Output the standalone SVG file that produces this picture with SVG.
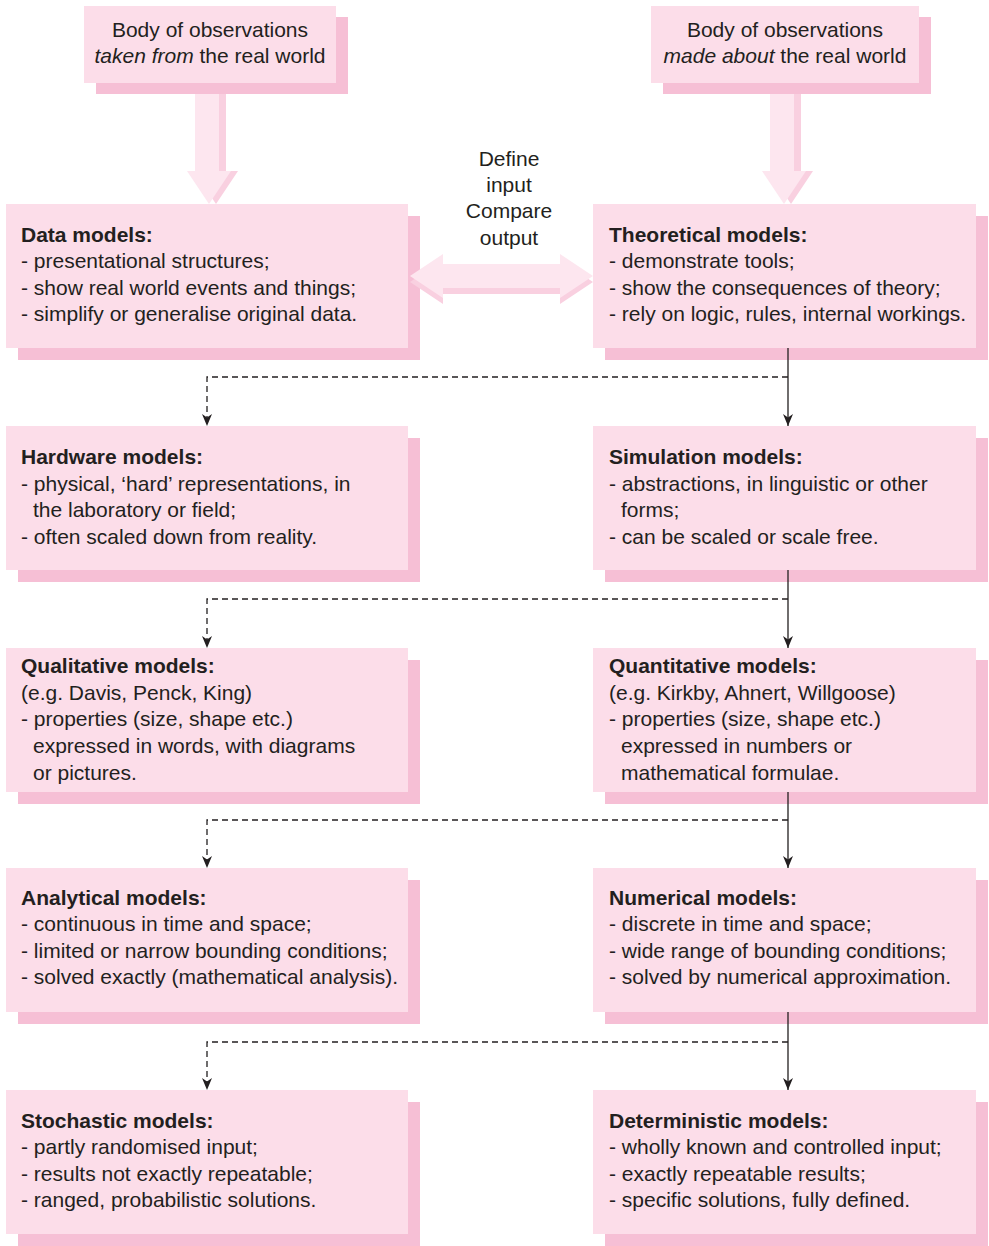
<svg xmlns="http://www.w3.org/2000/svg" width="989" height="1246" viewBox="0 0 989 1246">
<style>
.box{fill:#fcdde9}
.sh{fill:#f6bfd5}
.t{font-family:"Liberation Sans",Arial,Helvetica,sans-serif;font-size:21px;fill:#231f20}
.b{font-weight:bold}
.c{text-anchor:middle}
.fl{fill:#fde6ef}
.fd{fill:#f9d0e0}
.ln{fill:none;stroke:#231f20;stroke-width:1.3}
.ds{stroke-dasharray:6 4}
</style>
<defs>
<marker id="ah" markerUnits="userSpaceOnUse" viewBox="0 0 12 10" refX="12" refY="5" markerWidth="12" markerHeight="10" orient="auto">
<path d="M0,0 L12,5 L0,10 L3.5,5 Z" fill="#231f20"/>
</marker>
</defs>
<rect width="989" height="1246" fill="#ffffff"/>

<g id="obs-left">
<rect class="sh" x="96" y="17" width="252" height="77"/>
<rect class="box" x="84" y="6" width="252" height="77"/>
<text class="t c" x="210" y="37">Body of observations</text>
<text class="t c" x="210" y="63"><tspan font-style="italic">taken from</tspan> the real world</text>
</g>

<g id="obs-right">
<rect class="sh" x="663" y="17" width="268" height="77"/>
<rect class="box" x="651" y="6" width="268" height="77"/>
<text class="t c" x="785" y="37">Body of observations</text>
<text class="t c" x="785" y="63"><tspan font-style="italic">made about</tspan> the real world</text>
</g>

<g id="data">
<rect class="sh" x="18" y="216" width="402" height="144"/>
<rect class="box" x="6" y="204" width="402" height="144"/>
<text class="t b" x="21" y="242">Data models:</text>
<text class="t" x="21" y="268">- presentational structures;</text>
<text class="t" x="21" y="295">- show real world events and things;</text>
<text class="t" x="21" y="321">- simplify or generalise original data.</text>
</g>

<g id="theoretical">
<rect class="sh" x="605" y="216" width="383" height="144"/>
<rect class="box" x="593" y="204" width="383" height="144"/>
<text class="t b" x="609" y="242">Theoretical models:</text>
<text class="t" x="609" y="268">- demonstrate tools;</text>
<text class="t" x="609" y="295">- show the consequences of theory;</text>
<text class="t" x="609" y="321">- rely on logic, rules, internal workings.</text>
</g>

<g id="hardware">
<rect class="sh" x="18" y="438" width="402" height="144"/>
<rect class="box" x="6" y="426" width="402" height="144"/>
<text class="t b" x="21" y="464">Hardware models:</text>
<text class="t" x="21" y="491">- physical, ‘hard’ representations, in</text>
<text class="t" x="33" y="517">the laboratory or field;</text>
<text class="t" x="21" y="544">- often scaled down from reality.</text>
</g>

<g id="simulation">
<rect class="sh" x="605" y="438" width="383" height="144"/>
<rect class="box" x="593" y="426" width="383" height="144"/>
<text class="t b" x="609" y="464">Simulation models:</text>
<text class="t" x="609" y="491">- abstractions, in linguistic or other</text>
<text class="t" x="621" y="517">forms;</text>
<text class="t" x="609" y="544">- can be scaled or scale free.</text>
</g>

<g id="qualitative">
<rect class="sh" x="18" y="660" width="402" height="144"/>
<rect class="box" x="6" y="648" width="402" height="144"/>
<text class="t b" x="21" y="673">Qualitative models:</text>
<text class="t" x="21" y="700">(e.g. Davis, Penck, King)</text>
<text class="t" x="21" y="726">- properties (size, shape etc.)</text>
<text class="t" x="33" y="753">expressed in words, with diagrams</text>
<text class="t" x="33" y="780">or pictures.</text>
</g>

<g id="quantitative">
<rect class="sh" x="605" y="660" width="383" height="144"/>
<rect class="box" x="593" y="648" width="383" height="144"/>
<text class="t b" x="609" y="673">Quantitative models:</text>
<text class="t" x="609" y="700">(e.g. Kirkby, Ahnert, Willgoose)</text>
<text class="t" x="609" y="726">- properties (size, shape etc.)</text>
<text class="t" x="621" y="753">expressed in numbers or</text>
<text class="t" x="621" y="780">mathematical formulae.</text>
</g>

<g id="analytical">
<rect class="sh" x="18" y="880" width="402" height="144"/>
<rect class="box" x="6" y="868" width="402" height="144"/>
<text class="t b" x="21" y="905">Analytical models:</text>
<text class="t" x="21" y="931">- continuous in time and space;</text>
<text class="t" x="21" y="958">- limited or narrow bounding conditions;</text>
<text class="t" x="21" y="984">- solved exactly (mathematical analysis).</text>
</g>

<g id="numerical">
<rect class="sh" x="605" y="880" width="383" height="144"/>
<rect class="box" x="593" y="868" width="383" height="144"/>
<text class="t b" x="609" y="905">Numerical models:</text>
<text class="t" x="609" y="931">- discrete in time and space;</text>
<text class="t" x="609" y="958">- wide range of bounding conditions;</text>
<text class="t" x="609" y="984">- solved by numerical approximation.</text>
</g>

<g id="stochastic">
<rect class="sh" x="18" y="1102" width="402" height="144"/>
<rect class="box" x="6" y="1090" width="402" height="144"/>
<text class="t b" x="21" y="1128">Stochastic models:</text>
<text class="t" x="21" y="1154">- partly randomised input;</text>
<text class="t" x="21" y="1181">- results not exactly repeatable;</text>
<text class="t" x="21" y="1207">- ranged, probabilistic solutions.</text>
</g>

<g id="deterministic">
<rect class="sh" x="605" y="1102" width="383" height="144"/>
<rect class="box" x="593" y="1090" width="383" height="144"/>
<text class="t b" x="609" y="1128">Deterministic models:</text>
<text class="t" x="609" y="1154">- wholly known and controlled input;</text>
<text class="t" x="609" y="1181">- exactly repeatable results;</text>
<text class="t" x="609" y="1207">- specific solutions, fully defined.</text>
</g>

<g id="connectors">
<polygon class="fd" points="202,94 226,94 226,171 238,171 216,204 194,171 202,171"/>
<polygon class="fl" points="195,94 219,94 219,171 231,171 209,204 187,171 195,171"/>
<polygon class="fd" points="777,94 801,94 801,171 813,171 791,204 769,171 777,171"/>
<polygon class="fl" points="770,94 794,94 794,171 806,171 784,204 762,171 770,171"/>
<polygon class="fd" points="410,282 443,260 443,270 560,270 560,260 593,282 560,304 560,294 443,294 443,304"/>
<polygon class="fl" points="410,276 443,254 443,264 560,264 560,254 593,276 560,298 560,288 443,288 443,298"/>
<text class="t c" x="509" y="166">Define</text>
<text class="t c" x="509" y="192">input</text>
<text class="t c" x="509" y="218">Compare</text>
<text class="t c" x="509" y="245">output</text>

<path class="ln" d="M788,348 V426" marker-end="url(#ah)"/>
<path class="ln ds" d="M788,377 H207 V426" marker-end="url(#ah)"/>
<path class="ln" d="M788,570 V648" marker-end="url(#ah)"/>
<path class="ln ds" d="M788,599 H207 V648" marker-end="url(#ah)"/>
<path class="ln" d="M788,792 V868" marker-end="url(#ah)"/>
<path class="ln ds" d="M788,820 H207 V868" marker-end="url(#ah)"/>
<path class="ln" d="M788,1012 V1090" marker-end="url(#ah)"/>
<path class="ln ds" d="M788,1042 H207 V1090" marker-end="url(#ah)"/>
</g>
</svg>
